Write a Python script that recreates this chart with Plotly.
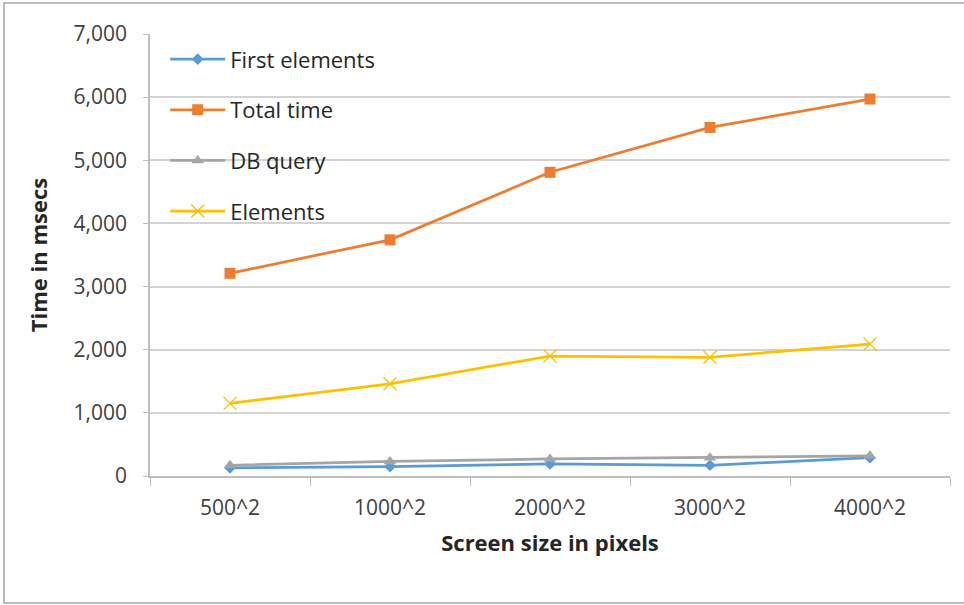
import plotly.graph_objects as go

# Screen sizes tested and measured timings (milliseconds)
categories = ["500^2", "1000^2", "2000^2", "3000^2", "4000^2"]
first_elements = [130, 150, 190, 170, 290]
total_time = [3210, 3740, 4810, 5520, 5970]
db_query = [170, 230, 270, 290, 320]
elements = [1150, 1460, 1900, 1880, 2090]

FONT = "Open Sans"
W, H = 964, 605
L, R, T, B = 150, 14, 34, 129

series = [
    ("First elements", first_elements, "#5b9bd5", dict(symbol="diamond", size=9)),
    ("Total time", total_time, "#ed7d31", dict(symbol="square", size=11)),
    ("DB query", db_query, "#a5a5a5", dict(symbol="triangle-up", size=11)),
    ("Elements", elements, "#ffc000", dict(symbol="x-thin", size=13, line=dict(width=1.3, color="#ffc000"))),
]

fig = go.Figure()
for i, (name, vals, color, marker) in enumerate(series):
    fig.add_trace(go.Scatter(
        x=categories, y=vals, name=name, mode="lines+markers",
        line=dict(color=color, width=2.75),
        marker=dict(color=color, **marker),
        legendgroup=f"g{i}",
    ))

pw = W - L - R
ph = H - T - B

fig.update_layout(
    width=W, height=H,
    margin=dict(l=L, r=R, t=T, b=B),
    paper_bgcolor="white", plot_bgcolor="white",
    font=dict(family=FONT, size=21, color="#262626"),
    legend=dict(
        x=0.019, y=0.99, xanchor="left", yanchor="top",
        bgcolor="rgba(0,0,0,0)", font=dict(size=22, color="#262626"),
        tracegroupgap=19, traceorder="grouped", itemwidth=55,
    ),
    xaxis=dict(
        type="category", range=[-0.5, 4.5],
        showgrid=False,
        showline=True, linecolor="#bfbfbf", linewidth=1.5,
        ticks="outside", tickson="boundaries", ticklen=8, tickcolor="#bfbfbf",
        ticklabelstandoff=12,
        tickfont=dict(size=21, color="#404040"),
        title=dict(text="<b>Screen size in pixels</b>", font=dict(size=22, color="#262626"), standoff=16),
    ),
    yaxis=dict(
        range=[0, 7000], dtick=1000, tickformat=",",
        showgrid=True, gridcolor="#d4d4d4", gridwidth=1.75,
        showline=True, linecolor="#bfbfbf", linewidth=1.5,
        ticks="outside", ticklen=5, tickcolor="#bfbfbf",
        ticklabelstandoff=12,
        tickfont=dict(size=21, color="#404040"),
        zeroline=False,
        title=dict(text="<b>Time in msecs</b>", font=dict(size=22, color="#262626"), standoff=20),
    ),
)

# Outer chart-area border
def px_x(v):
    return (v - L) / pw

def px_y(v):
    return (H - B - v) / ph

fig.add_shape(
    type="rect", xref="paper", yref="paper",
    x0=px_x(4), x1=px_x(975), y0=px_y(603), y1=px_y(3),
    line=dict(color="#a6a6a6", width=1.5), fillcolor="rgba(0,0,0,0)", layer="below",
)

fig.write_html("out.html")
